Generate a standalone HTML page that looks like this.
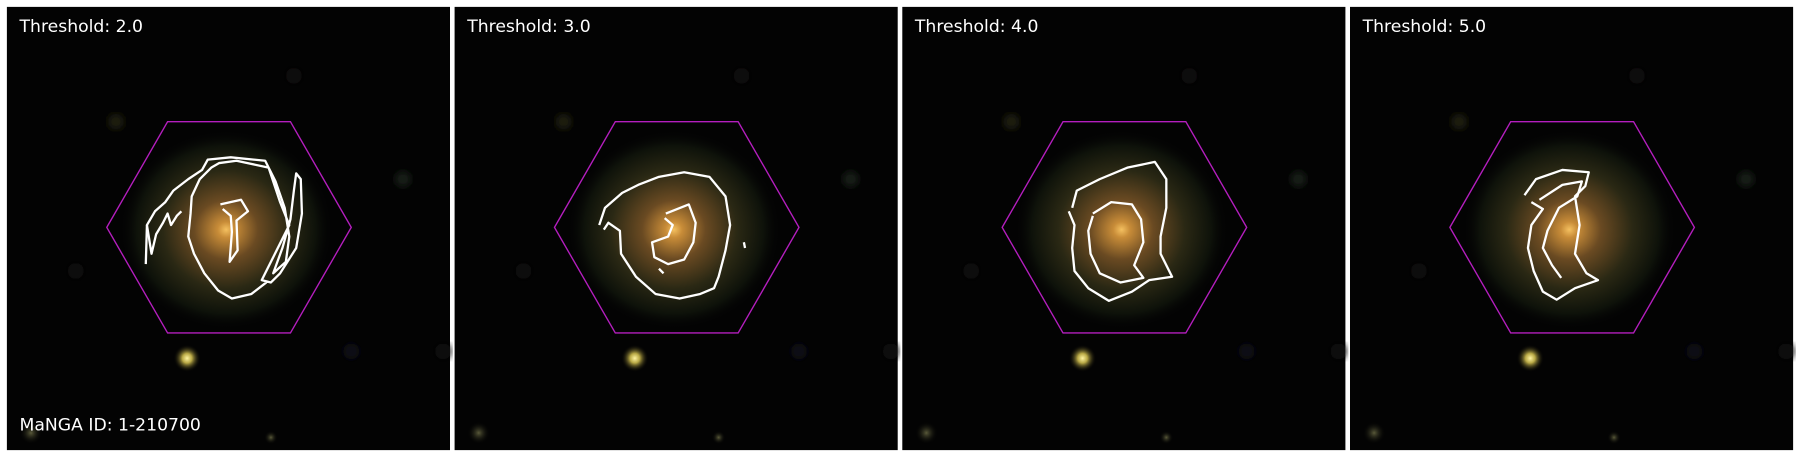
<!DOCTYPE html>
<html><head><meta charset="utf-8"><style>
html,body{margin:0;padding:0;background:#fff;width:1800px;height:457px;overflow:hidden}
svg{display:block}
</style></head><body>
<svg id="fig" width="1800" height="457" viewBox="0 0 1568 398" preserveAspectRatio="none" xmlns="http://www.w3.org/2000/svg">
<defs>
<radialGradient id="gal" cx="50%" cy="50%" r="50%">
<stop offset="0" stop-color="#f4c060"/>
<stop offset="0.08" stop-color="#c88c38"/>
<stop offset="0.3" stop-color="#6a4a22"/>
<stop offset="0.6" stop-color="#2a2814"/>
<stop offset="0.85" stop-color="#0e120a"/>
<stop offset="1" stop-color="#050505" stop-opacity="0"/>
</radialGradient>
<radialGradient id="star" cx="50%" cy="50%" r="50%">
<stop offset="0" stop-color="#fff4a0"/>
<stop offset="0.35" stop-color="#b8a845"/>
<stop offset="1" stop-color="#000" stop-opacity="0"/>
</radialGradient>
<radialGradient id="star2" cx="50%" cy="50%" r="50%">
<stop offset="0" stop-color="#5a5a3a"/>
<stop offset="1" stop-color="#000" stop-opacity="0"/>
</radialGradient>
<filter id="blur"><feGaussianBlur stdDeviation="3"/></filter>
</defs>
</svg>
<script>
const thresholds = [2.0, 3.0, 4.0, 5.0];
const panelX = [6, 396, 786, 1176];
const mangaId = "1-210700";
const contours = [
 [
  [[121,224],[122,190],[129,178],[138,170],[145,160],[158,150],[170,142],[175,133],[195,131],[225,134],[234,152],[242,175],[246,200],[243,222],[232,232],[240,210],[247,185],[250,160],[252,145],[256,150],[257,180],[252,210],[238,232],[230,240],[222,238],[235,212],[246,190],[238,170],[228,140],[200,134],[185,136],[178,140],[168,150],[161,165],[160,180],[158,200],[163,215],[172,232],[184,247],[196,254],[213,250],[226,240]],
  [[122,190],[126,215],[130,198],[136,188],[140,180],[143,190],[148,182],[152,178]],
  [[186,172],[204,168],[210,178],[200,186],[201,212],[194,222],[196,196],[195,182],[188,176]]
 ],
 [
  [[126,190],[131,175],[146,162],[160,155],[178,148],[200,144],[222,148],[236,165],[240,190],[236,212],[230,235],[226,245],[214,250],[196,254],[175,250],[158,235],[145,215],[144,195],[134,188],[130,194]],
  [[184,180],[204,172],[210,188],[208,205],[200,220],[186,224],[174,218],[172,205],[186,200],[190,190],[183,184]],
  [[252,205],[253,210]],[[178,228],[182,232]]
 ],
 [
  [[148,175],[152,160],[172,150],[196,140],[220,135],[230,150],[230,175],[225,200],[225,215],[235,235],[215,238],[200,248],[180,256],[162,245],[150,230],[148,210],[150,190],[145,178]],
  [[166,180],[182,170],[200,172],[208,185],[210,205],[202,225],[210,236],[190,240],[172,232],[164,215],[162,195],[166,182]]
 ],
 [
  [[152,164],[162,150],[185,142],[208,144],[205,156],[196,165],[200,190],[196,215],[206,232],[216,238],[196,245],[180,255],[168,248],[160,230],[155,210],[158,190],[168,176],[158,170]],
  [[165,168],[185,155],[202,152],[198,165],[182,175],[172,195],[168,210],[176,225],[184,236]]
 ]
];
const hexHalfW = 106.5, hexTopHalfW = 53.5, hexHalfH = 92, hexCy = 198;
const svg = document.getElementById('fig');
const NS = 'http://www.w3.org/2000/svg';
function mk(tag, attrs){const e=document.createElementNS(NS,tag);for(const k in attrs)e.setAttribute(k,attrs[k]);svg.appendChild(e);return e;}
thresholds.forEach((t,i)=>{
 const x0 = panelX[i], y0 = 6, w = 386, h = 386;
 const bg = mk('rect',{x:x0,y:y0,width:w,height:h,fill:'#030303'});
 
 
 [[95,100,'#1c1c0e'],[345,150,'#121c12'],[60,230,'#0e0a0a'],[300,300,'#0a0a12'],[250,60,'#100809'],[380,300,'#0c0c0c']].forEach(b=>{
  const c = mk('circle',{cx:x0+b[0],cy:y0+b[1],r:7,fill:b[2],filter:'url(#blur)'});
  
  
 });
 const g = mk('ellipse',{cx:x0+191,cy:y0+194,rx:92,ry:86,fill:'url(#gal)'});
 
 
 const s = mk('circle',{cx:x0+157,cy:y0+306,r:12,fill:'url(#star)'});
 
 
 const s2 = mk('circle',{cx:x0+21,cy:y0+371,r:10,fill:'url(#star2)'});
 
 
 const s3 = mk('circle',{cx:x0+230,cy:y0+375,r:6,fill:'url(#star2)'});
 
 
 const cx = x0+193.5, cy = hexCy;
 const pts = [[cx-hexHalfW,cy],[cx-hexTopHalfW,cy-hexHalfH],[cx+hexTopHalfW,cy-hexHalfH],[cx+hexHalfW,cy],[cx+hexTopHalfW,cy+hexHalfH],[cx-hexTopHalfW,cy+hexHalfH]];
 const hex = mk('polygon',{points:pts.map(p=>p.join(',')).join(' '),fill:'none',stroke:'#b41ebe','stroke-width':1.2});
 
 
 contours[i].forEach(c=>{
  const p = mk('polyline',{points:c.map(q=>(x0+q[0])+','+(y0+q[1])).join(' '),fill:'none',stroke:'#fff','stroke-width':2,'stroke-linejoin':'round'});
  
  
 });
 const tx = mk('text',{x:x0+11,y:y0+22,fill:'#fff','font-size':15,'font-family':'DejaVu Sans, Liberation Sans, sans-serif'});
 tx.textContent = 'Threshold: ' + t.toFixed(1);
 
 
 if(i===0){
  const id = mk('text',{x:x0+11,y:y0+369,fill:'#fff','font-size':15,'font-family':'DejaVu Sans, Liberation Sans, sans-serif'});
  id.textContent = 'MaNGA ID: ' + mangaId;
  
  
 }
});
</script>
</body></html>
